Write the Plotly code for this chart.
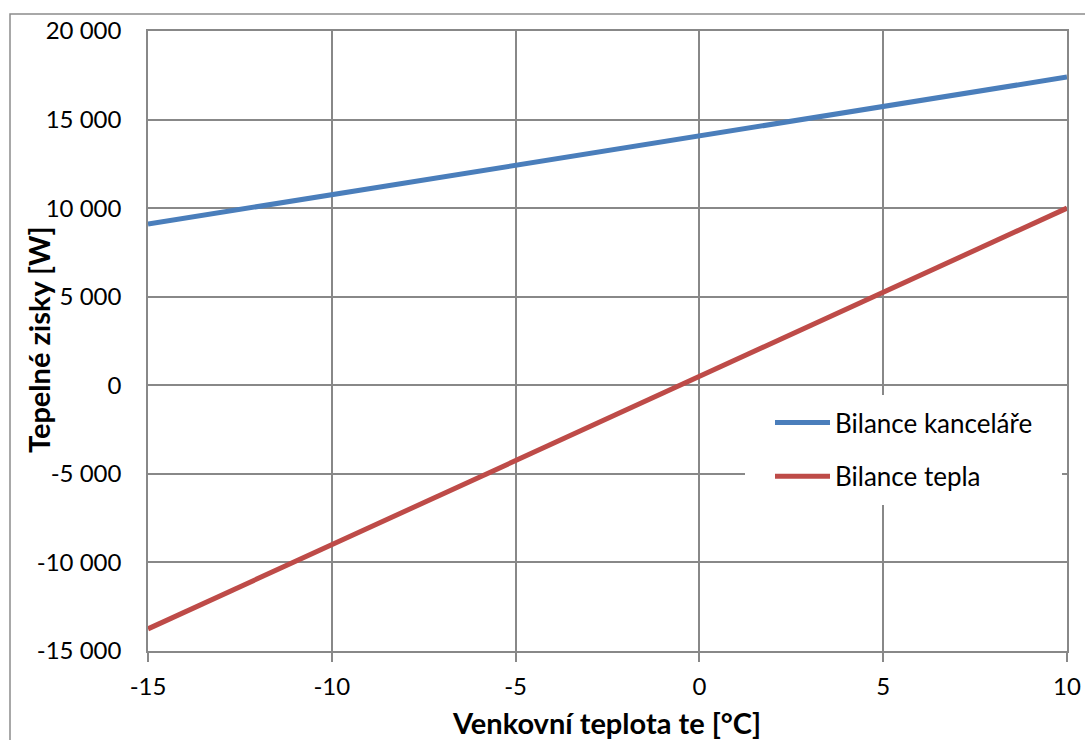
import plotly.graph_objects as go

# Outdoor temperature [°C] and heat balance values [W]
teplota = [-15, 10]
bilance_kancelare = [9100, 17400]
bilance_tepla = [-13750, 10000]

x_ticks = [-15, -10, -5, 0, 5, 10]
x_labels = ["-15", "-10", "-5", "0", "5", "10"]
y_ticks = [-15000, -10000, -5000, 0, 5000, 10000, 15000, 20000]
y_labels = ["-15 000", "-10 000", "-5 000", "0", "5 000", "10 000", "15 000", "20 000"]

FONT = "Lato, 'Open Sans', sans-serif"
GRID = "#888888"

fig = go.Figure()
fig.add_trace(go.Scatter(
    x=teplota, y=bilance_kancelare, mode="lines", name="Bilance kanceláře",
    legendgroup="a", line=dict(color="#4A7EBB", width=5),
))
fig.add_trace(go.Scatter(
    x=teplota, y=bilance_tepla, mode="lines", name="Bilance tepla",
    legendgroup="b", line=dict(color="#BE4B48", width=5),
))

W, H = 1085, 740
L, R, T, B = 148, 18, 31, 89
pw, ph = W - L - R, H - T - B


def px_x(p):
    return (p - L) / pw


def px_y(p):
    return (H - B - p) / ph


# Outer chart frame
fig.add_shape(
    type="rect", xref="paper", yref="paper",
    x0=px_x(10), x1=1.2, y0=-0.3, y1=px_y(14),
    line=dict(color="#8c8c8c", width=1.5), fillcolor="rgba(0,0,0,0)",
)
# White panel behind the legend
fig.add_shape(
    type="rect", xref="paper", yref="paper", layer="above",
    x0=px_x(745), x1=px_x(1062), y0=px_y(505), y1=px_y(395),
    line=dict(width=0), fillcolor="white",
)

fig.add_annotation(
    text="<b>Tepelné zisky [W]</b>", xref="paper", yref="paper",
    x=px_x(38), y=px_y(340), textangle=-90, showarrow=False,
    xanchor="center", yanchor="middle", font=dict(size=29),
)
fig.add_annotation(
    text="<b>Venkovní teplota te [°C]</b>", xref="paper", yref="paper",
    x=px_x(606), y=px_y(722), showarrow=False,
    xanchor="center", yanchor="middle", font=dict(size=29),
)

fig.update_layout(
    width=W, height=H,
    margin=dict(l=L, r=R, t=T, b=B, autoexpand=False),
    paper_bgcolor="white", plot_bgcolor="white",
    font=dict(family=FONT, size=24, color="black"),
    showlegend=True,
    legend=dict(
        x=px_x(770), y=px_y(399), xanchor="left", yanchor="top",
        bgcolor="rgba(0,0,0,0)", borderwidth=0, tracegroupgap=17,
        itemwidth=55,
        font=dict(family=FONT, size=26, color="black"),
    ),
    xaxis=dict(
        range=[-15, 10], tickvals=x_ticks, ticktext=x_labels,
        showgrid=True, gridcolor=GRID, gridwidth=1.5,
        showline=True, linecolor=GRID, linewidth=1.5, mirror=True,
        ticks="outside", ticklen=9, tickcolor=GRID, tickwidth=1.5,
        ticklabelstandoff=4, zeroline=False,
    ),
    yaxis=dict(
        range=[-15000, 20000], tickvals=y_ticks, ticktext=y_labels,
        showgrid=True, gridcolor=GRID, gridwidth=1.5,
        showline=True, linecolor=GRID, linewidth=1.5, mirror=True,
        ticks="", ticklabelstandoff=20, zeroline=False,
    ),
)

fig.write_html("out.html")
